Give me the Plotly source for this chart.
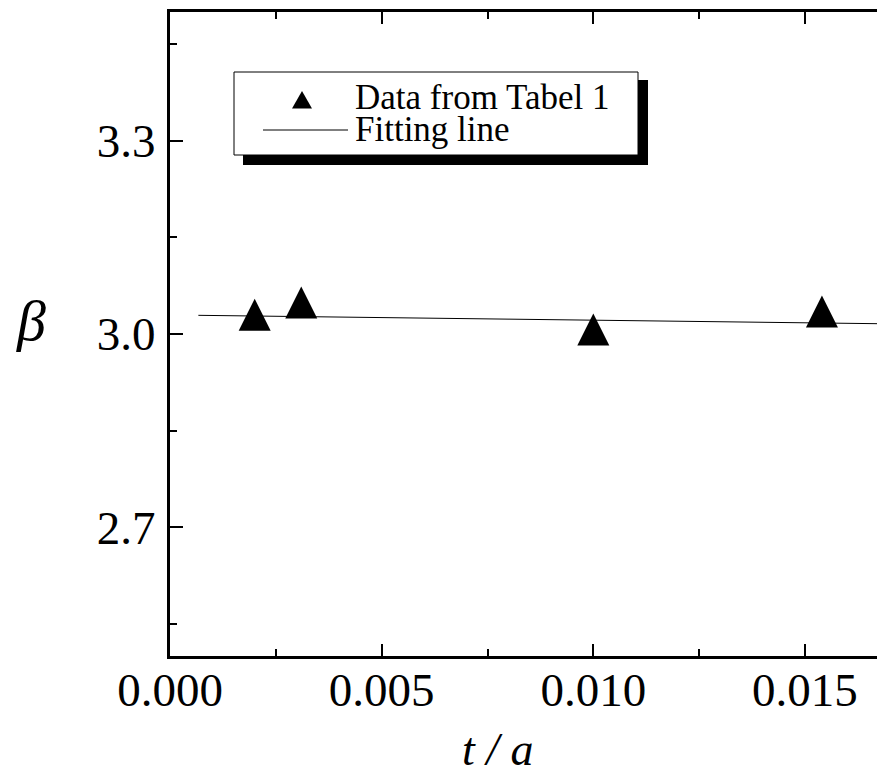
import plotly.graph_objects as go

# ---------------- data ----------------
t_over_a = [0.0020, 0.0031, 0.0100, 0.0154]
beta_vals = [3.030, 3.049, 3.007, 3.035]

fit_x = [0.00067, 0.01673]
fit_y = [3.029, 3.016]

x_ticks = [0.000, 0.005, 0.010, 0.015]
x_ticklabels = ["0.000", "0.005", "0.010", "0.015"]
x_minor_ticks = [0.0025, 0.0075, 0.0125]

y_ticks = [2.7, 3.0, 3.3]
y_ticklabels = ["2.7", "3.0", "3.3"]
y_minor_ticks = [2.55, 2.85, 3.15, 3.45]

series_names = ["Data from Tabel 1", "Fitting line"]

# ---------------- layout helpers ----------------
# the page body has an 8px margin, so the figure starts at (8, 8) in the window
OFF = 8
W, H = 885 - OFF, 779 - OFF
ML, MR, MT, MB = 162, 0, 4, 123
PW = W - ML - MR
PH = H - MT - MB


def px(xw):
    """window x pixel -> paper fraction"""
    return (xw - OFF - ML) / PW


def py(yw):
    """window y pixel -> paper fraction"""
    return (H - MB - (yw - OFF)) / PH


SERIF = "Liberation Serif, Times New Roman, serif"

fig = go.Figure()

fig.add_trace(go.Scatter(
    x=fit_x, y=fit_y, mode="lines", name=series_names[1],
    line=dict(color="black", width=1), showlegend=False, hoverinfo="skip"))

fig.add_trace(go.Scatter(
    x=t_over_a, y=beta_vals, mode="markers", name=series_names[0],
    marker=dict(symbol="arrow-down", angle=180, standoff=16, size=32,
                color="black", line=dict(width=0)),
    showlegend=False))

# trace on the right-hand axis (carries the mirrored ticks only)
fig.add_trace(go.Scatter(x=t_over_a, y=beta_vals, yaxis="y2", mode="markers",
                         marker=dict(opacity=0), showlegend=False,
                         hoverinfo="skip"))

tickfont = dict(family=SERIF, size=47, color="black")

fig.update_layout(
    width=W, height=H,
    margin=dict(l=ML, r=MR, t=MT, b=MB, pad=0),
    paper_bgcolor="white", plot_bgcolor="white",
    showlegend=False,
    xaxis=dict(
        range=[0, 0.01689], tickmode="array", tickvals=x_ticks,
        ticktext=x_ticklabels, ticks="inside", ticklen=12, tickwidth=2,
        tickcolor="black", showline=True, linewidth=3, linecolor="black",
        mirror="ticks", showgrid=False, zeroline=False, tickfont=tickfont,
        ticklabelstandoff=-9,
        minor=dict(tickvals=x_minor_ticks, ticks="inside", ticklen=7,
                   tickwidth=2, tickcolor="black", showgrid=False),
    ),
    yaxis=dict(
        range=[2.5, 3.5], tickmode="array", tickvals=y_ticks,
        ticktext=y_ticklabels, ticks="inside", ticklen=13, tickwidth=2,
        tickcolor="black", showline=True, linewidth=3, linecolor="black",
        mirror=False, showgrid=False, zeroline=False, tickfont=tickfont,
        ticklabelstandoff=2,
        minor=dict(tickvals=y_minor_ticks, ticks="inside", ticklen=7,
                   tickwidth=2, tickcolor="black", showgrid=False),
    ),
    yaxis2=dict(
        overlaying="y", side="right", anchor="x", range=[2.5, 3.5],
        tickmode="array", tickvals=y_ticks, ticks="inside", ticklen=8,
        tickwidth=2, tickcolor="black", showticklabels=False,
        showline=False, showgrid=False, zeroline=False,
        minor=dict(tickvals=y_minor_ticks, ticks="inside", ticklen=2,
                   tickwidth=2, tickcolor="black", showgrid=False),
    ),
)

# ---------------- hand-drawn legend box (with drop shadow) ----------------
shapes = [
    dict(type="rect", xref="paper", yref="paper",
         x0=px(243), x1=px(648), y0=py(165), y1=py(80),
         fillcolor="black", line=dict(width=0), layer="above"),
    dict(type="rect", xref="paper", yref="paper",
         x0=px(234), x1=px(638), y0=py(155), y1=py(72),
         fillcolor="white", line=dict(color="black", width=1), layer="above"),
    dict(type="path", xref="paper", yref="paper",
         path="M {} {} L {} {} L {} {} Z".format(
             px(292), py(108.5), px(312), py(108.5), px(302), py(91)),
         fillcolor="black", line=dict(width=0), layer="above"),
    dict(type="line", xref="paper", yref="paper",
         x0=px(263), x1=px(348), y0=py(130), y1=py(130),
         line=dict(color="black", width=1), layer="above"),
]

annotations = [
    dict(text=series_names[0], xref="paper", yref="paper",
         x=px(353), y=py(98), xanchor="left", yanchor="middle",
         showarrow=False, font=dict(family=SERIF, size=35, color="black")),
    dict(text=series_names[1], xref="paper", yref="paper",
         x=px(353), y=py(130), xanchor="left", yanchor="middle",
         showarrow=False, font=dict(family=SERIF, size=35, color="black")),
    dict(text="<i>t / a</i>", xref="paper", yref="paper",
         x=px(498), y=py(750), xanchor="center", yanchor="middle",
         showarrow=False, font=dict(family=SERIF, size=46, color="black")),
    dict(text="<i>β</i>", xref="paper", yref="paper",
         x=px(31), y=py(320), xanchor="center", yanchor="middle",
         showarrow=False, font=dict(family=SERIF, size=58, color="black")),
]

fig.update_layout(shapes=shapes, annotations=annotations)

fig.write_html("out.html")
